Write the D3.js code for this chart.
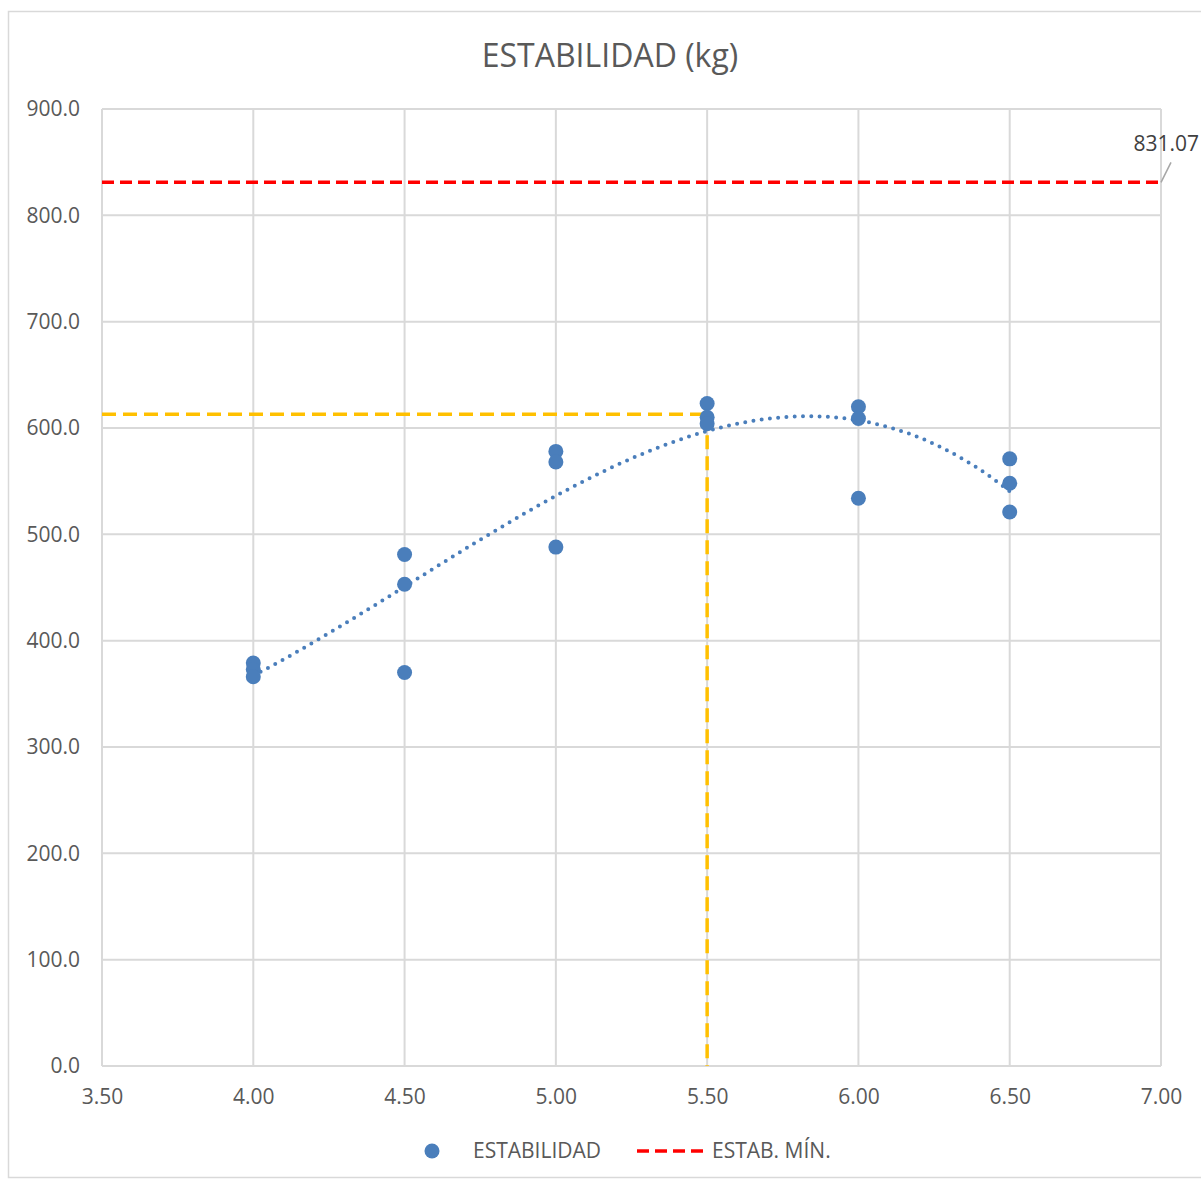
<!DOCTYPE html>
<html><head><meta charset="utf-8">
<script src="https://cdn.jsdelivr.net/npm/d3@7"></script>
<style>body{margin:0;background:#fff}svg{display:block}</style>
</head><body>
<svg id="c" width="1201" height="1180"></svg>
<script>
const title = "ESTABILIDAD (kg)";
const xValues = [4.0,4.0,4.0, 4.5,4.5,4.5, 5.0,5.0,5.0, 5.5,5.5,5.5, 6.0,6.0,6.0, 6.5,6.5,6.5];
const estabilidad = [379,373,366, 481,453,370, 578,568,488, 623,610,604, 620,609,534, 571,548,521];
const estabMin = 831.07;
const optimoX = 5.5;
const optimoY = 613;
const xTicks = [3.5,4.0,4.5,5.0,5.5,6.0,6.5,7.0];
const yTicks = [0,100,200,300,400,500,600,700,800,900];
const legendLabels = ["ESTABILIDAD","ESTAB. MÍN."];

const font = "'Open Sans', sans-serif";
const txt = "#595959";
const blue = "#4A7EBB";
const svg = d3.select("#c");
const m = {l:102, r:1161, t:109, b:1066};
const x = d3.scaleLinear().domain([3.5,7.0]).range([m.l,m.r]);
const y = d3.scaleLinear().domain([0,900]).range([m.b,m.t]);

// border
svg.append("rect").attr("x",8.5).attr("y",11.5).attr("width",1200).attr("height",1166)
  .attr("fill","none").attr("stroke","#d9d9d9").attr("stroke-width",1.5);

// title
svg.append("text").attr("x",610).attr("y",67).attr("text-anchor","middle")
  .attr("font-family",font).attr("font-size",32).attr("fill",txt).text(title);

// gridlines
const g = svg.append("g");
g.selectAll(".hy").data(yTicks).join("line")
  .attr("x1",m.l).attr("x2",m.r).attr("y1",d=>y(d)).attr("y2",d=>y(d))
  .attr("stroke","#d9d9d9").attr("stroke-width",2);
g.selectAll(".vx").data(xTicks).join("line")
  .attr("y1",m.t).attr("y2",m.b).attr("x1",d=>x(d)).attr("x2",d=>x(d))
  .attr("stroke","#d9d9d9").attr("stroke-width",2);

// axes via d3
const ya = svg.append("g").attr("transform",`translate(${m.l},0)`)
  .call(d3.axisLeft(y).tickValues(yTicks).tickFormat(d3.format(".1f")).tickSize(0).tickPadding(22));
ya.select(".domain").remove();
ya.selectAll("text").attr("font-family",font).attr("font-size",21).attr("fill",txt);
const xa = svg.append("g").attr("transform",`translate(0,${m.b})`)
  .call(d3.axisBottom(x).tickValues(xTicks).tickFormat(d3.format(".2f")).tickSize(0).tickPadding(23));
xa.select(".domain").remove();
xa.selectAll("text").attr("font-family",font).attr("font-size",21).attr("fill",txt);

// red min line
svg.append("line").attr("x1",m.l).attr("x2",m.r).attr("y1",y(estabMin)).attr("y2",y(estabMin))
  .attr("stroke","#FF0000").attr("stroke-width",3.5).attr("stroke-dasharray","12 6");
svg.append("line").attr("x1",m.r).attr("y1",y(estabMin)).attr("x2",m.r+10).attr("y2",y(estabMin)-20)
  .attr("stroke","#a6a6a6").attr("stroke-width",1.5);
svg.append("text").attr("x",1199).attr("y",y(estabMin)-31).attr("text-anchor","end")
  .attr("font-family",font).attr("font-size",21).attr("fill","#404040").text(estabMin.toFixed(2));

// optimum lines
svg.append("line").attr("x1",m.l).attr("x2",x(optimoX)).attr("y1",y(optimoY)).attr("y2",y(optimoY))
  .attr("stroke","#FFC000").attr("stroke-width",3.5).attr("stroke-dasharray","14 7");
svg.append("line").attr("x1",x(optimoX)).attr("x2",x(optimoX)).attr("y1",y(optimoY)).attr("y2",y(0))
  .attr("stroke","#FFC000").attr("stroke-width",3.5).attr("stroke-dasharray","14 7");

// cubic least squares trendline
function polyfit(xs, ys, deg){
  const n = deg+1;
  const A = Array.from({length:n},()=>Array(n+1).fill(0));
  for(let k=0;k<xs.length;k++){
    for(let i=0;i<n;i++){
      for(let j=0;j<n;j++) A[i][j]+=Math.pow(xs[k],i+j);
      A[i][n]+=ys[k]*Math.pow(xs[k],i);
    }
  }
  for(let i=0;i<n;i++){
    let p=i; for(let r=i+1;r<n;r++) if(Math.abs(A[r][i])>Math.abs(A[p][i])) p=r;
    [A[i],A[p]]=[A[p],A[i]];
    for(let r=0;r<n;r++){ if(r===i) continue; const f=A[r][i]/A[i][i];
      for(let c=i;c<=n;c++) A[r][c]-=f*A[i][c]; }
  }
  return A.map((row,i)=>row[n]/row[i]);
}
const coef = polyfit(xValues, estabilidad, 3);
const xmin = d3.min(xValues), xmax = d3.max(xValues);
const trend = d3.range(0,201).map(i=>{const xv = xmin+(xmax-xmin)*i/200;
  return [xv, coef.reduce((s,c,k)=>s+c*Math.pow(xv,k),0)];});
svg.append("path").datum(trend)
  .attr("d", d3.line().x(d=>x(d[0])).y(d=>y(d[1])))
  .attr("fill","none").attr("stroke",blue).attr("stroke-width",4)
  .attr("stroke-linecap","round").attr("stroke-dasharray","0 8.3");

// points
svg.selectAll(".pt").data(xValues.map((v,i)=>[v,estabilidad[i]])).join("circle")
  .attr("cx",d=>x(d[0])).attr("cy",d=>y(d[1])).attr("r",7.5).attr("fill",blue);

// legend
const lg = svg.append("g");
lg.append("circle").attr("cx",432).attr("cy",1151).attr("r",7.5).attr("fill",blue);
lg.append("text").attr("x",473).attr("y",1158).attr("font-family",font).attr("font-size",21)
  .attr("fill",txt).text(legendLabels[0]);
lg.append("line").attr("x1",637).attr("x2",705).attr("y1",1151).attr("y2",1151)
  .attr("stroke","#FF0000").attr("stroke-width",3.5).attr("stroke-dasharray","12 6");
lg.append("text").attr("x",712).attr("y",1158).attr("font-family",font).attr("font-size",21)
  .attr("fill",txt).text(legendLabels[1]);
</script>
</body></html>
